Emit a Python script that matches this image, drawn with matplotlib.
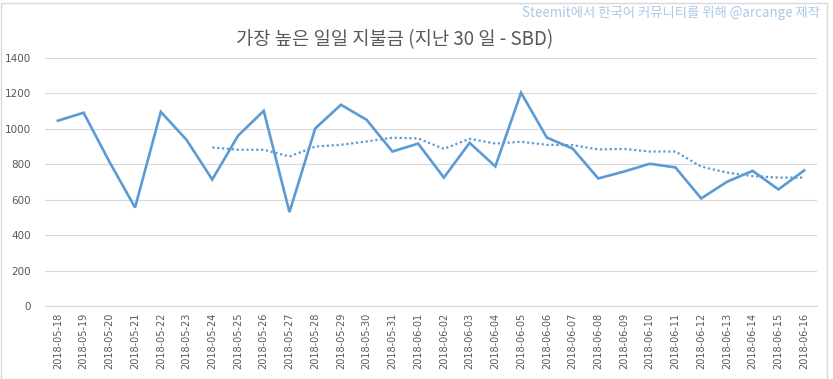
import matplotlib
matplotlib.use('Agg')
import matplotlib.pyplot as plt
from matplotlib.patches import Rectangle

plt.rcParams['font.family'] = ['Noto Sans CJK KR', 'DejaVu Sans']

# --- datos ---
fechas = ['2018-05-18', '2018-05-19', '2018-05-20', '2018-05-21', '2018-05-22',
          '2018-05-23', '2018-05-24', '2018-05-25', '2018-05-26', '2018-05-27',
          '2018-05-28', '2018-05-29', '2018-05-30', '2018-05-31', '2018-06-01',
          '2018-06-02', '2018-06-03', '2018-06-04', '2018-06-05', '2018-06-06',
          '2018-06-07', '2018-06-08', '2018-06-09', '2018-06-10', '2018-06-11',
          '2018-06-12', '2018-06-13', '2018-06-14', '2018-06-15', '2018-06-16']

pagos = [1046, 1091, 815, 556, 1096, 938, 714, 961, 1102, 530,
         1002, 1136, 1051, 872, 917, 725, 921, 788, 1204, 951,
         889, 720, 759, 803, 782, 607, 701, 763, 658, 765]

# media móvil (línea punteada), empieza en 2018-05-24
media = [895, 882, 882, 844, 900, 910, 929, 950, 946, 887,
         944, 917, 927, 910, 908, 884, 887, 872, 872, 787,
         753, 733, 725, 725]

titulo = '가장 높은 일일 지불금 (지난 30 일 - SBD)'
marca = 'Steemit에서 한국어 커뮤니티를 위해 @arcange 제작'

# --- gráfica ---
fig = plt.figure(figsize=(8.33, 3.79), dpi=100)
ax = fig.add_axes([45 / 833, 73 / 379, 772 / 833, 248 / 379])

x = list(range(len(fechas)))
ax.plot(x, pagos, color='#5b9bd5', lw=1.9, solid_joinstyle='miter')
ax.plot(x[len(x) - len(media):], media, color='#5b9bd5', lw=1.6, ls=(0, (1, 1.2)))

ax.set_xlim(-0.5, len(fechas) - 0.5)
ax.set_ylim(0, 1400)
ax.set_yticks(range(0, 1401, 200))
ax.set_xticks(x)
ax.set_xticklabels(fechas, rotation=90, fontsize=7, color='#595959', family='DejaVu Sans')
for t in ax.get_yticklabels():
    t.set_fontsize(7.5)
    t.set_color('#595959')
    t.set_family('DejaVu Sans')
ax.tick_params(length=0, pad=5)
ax.tick_params(axis='y', pad=10)

ax.grid(axis='y', color='#d9d9d9', lw=0.8)
ax.set_axisbelow(True)
for lado in ['top', 'right', 'left']:
    ax.spines[lado].set_visible(False)
ax.spines['bottom'].set_color('#d9d9d9')
ax.spines['bottom'].set_linewidth(0.8)

fig.text(395 / 833, 1 - 40 / 379, titulo, ha='center', va='center',
         fontsize=13.5, color='#595959', fontweight='light')
fig.text(820 / 833, 1 - 13 / 379, marca, ha='right', va='center',
         fontsize=9.6, color='#a9c9e8')

fig.patches.append(Rectangle((0.5 / 833, 0.5 / 379), 826 / 833, 376 / 379,
                             transform=fig.transFigure, fill=False,
                             edgecolor='#d9d9d9', lw=1))

fig.savefig('out.png', dpi=100)
